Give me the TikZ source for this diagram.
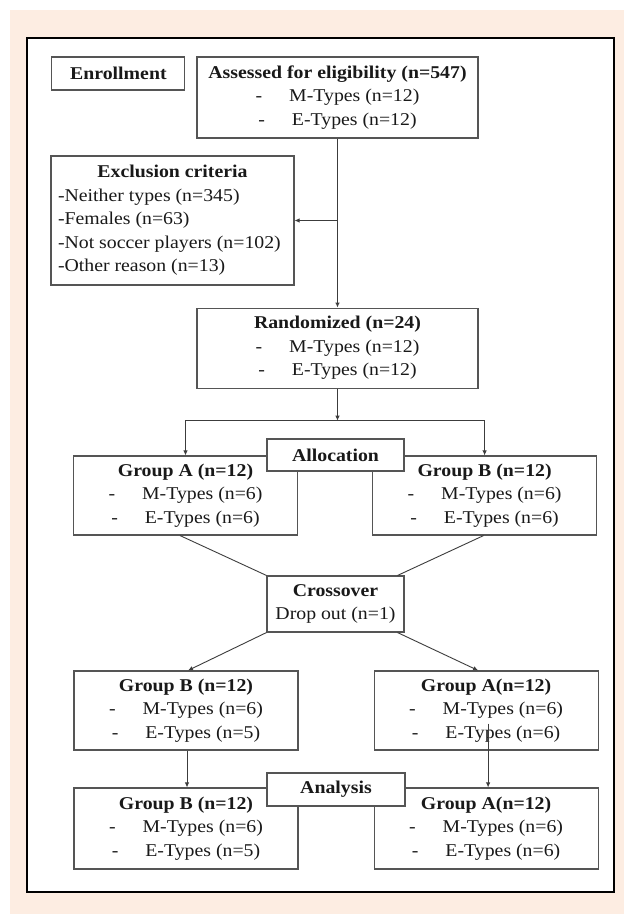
\documentclass[tikz,border=0pt]{standalone}
\usepackage{fontspec}
\setmainfont{Liberation Serif}[FakeStretch=1.1]
\usepackage{xcolor}
\usetikzlibrary{arrows.meta}
\usetikzlibrary{positioning}
\definecolor{peach}{RGB}{253,237,226}
\definecolor{boxline}{RGB}{85,85,85}
\definecolor{linkline}{RGB}{60,60,60}
\newcommand{\typeitem}[1]{-\hspace{27pt}#1}

\begin{document}
\begin{tikzpicture}[x=1pt, y=1pt,
    flowbox/.style={draw=boxline, line width=1.1pt, fill=white, inner sep=0pt,
      align=center, text=black!90, font=\fontsize{18}{23.5}\selectfont},
    groupbox/.style={flowbox, minimum width=224pt, minimum height=79pt},
    link/.style={draw=linkline, line width=0.9pt},
    arrow/.style={link, -{Latex[length=5pt,width=4.5pt]}}]
        \useasboundingbox (0,0) rectangle (624,-914);%
        \fill[white] (0,0) rectangle (624,-914);%
        \fill[peach] (10,-10) rectangle (624,-914);%
        \draw[fill=white, line width=1.8pt] (27,-38) rectangle (614,-892);%
        % enrollment
        \node[flowbox, minimum width=281pt, minimum height=81pt] (assess) at (337.5,-97.5) {\textbf{Assessed for eligibility (n=547)}\\ \typeitem{M-Types (n=12)}\\ \typeitem{E-Types (n=12)}};%
        \node[flowbox, minimum width=133pt, minimum height=33pt, anchor=north east] (enroll) at ([xshift=-11pt]assess.north west) {\textbf{Enrollment}};%
        \node[flowbox, minimum width=243pt, minimum height=129pt, align=left, inner xsep=7pt] (excl) at (172.5,-220.5) {\makebox[229pt]{\textbf{Exclusion criteria}}\\ -Neither types (n=345)\\ -Females (n=63)\\ -Not soccer players (n=102)\\ -Other reason (n=13)};%
        \node[flowbox, minimum width=281pt, minimum height=80pt, below=169pt of assess] (rand) {\textbf{Randomized (n=24)}\\ \typeitem{M-Types (n=12)}\\ \typeitem{E-Types (n=12)}};%
        \coordinate[below=32pt of rand] (split);%
        % allocation
        \node[groupbox] (grpA) at (185.5,-495.5) {\textbf{Group A (n=12)}\\ \typeitem{M-Types (n=6)}\\ \typeitem{E-Types (n=6)}};%
        \node[groupbox, right=74pt of grpA] (grpB) {\textbf{Group B (n=12)}\\ \typeitem{M-Types (n=6)}\\ \typeitem{E-Types (n=6)}};%
        \node[flowbox, minimum width=137pt, minimum height=32pt] (alloc) at (335.5,-455) {\textbf{Allocation}};%
        % crossover
        \node[flowbox, minimum width=137pt, minimum height=56pt] (cross) at (335.5,-604) {\textbf{Crossover}\\ Drop out (n=1)};%
        \node[groupbox] (grpB2) at (186,-710.5) {\textbf{Group B (n=12)}\\ \typeitem{M-Types (n=6)}\\ \typeitem{E-Types (n=5)}};%
        \node[groupbox, right=75pt of grpB2] (grpA2) {\textbf{Group A(n=12)}\\ \typeitem{M-Types (n=6)}\\ \typeitem{E-Types (n=6)}};%
        % analysis
        \node[groupbox, minimum height=81pt] (grpB3) at (186,-828.5) {\textbf{Group B (n=12)}\\ \typeitem{M-Types (n=6)}\\ \typeitem{E-Types (n=5)}};%
        \node[groupbox, minimum height=81pt, right=75pt of grpB3] (grpA3) {\textbf{Group A(n=12)}\\ \typeitem{M-Types (n=6)}\\ \typeitem{E-Types (n=6)}};%
        \node[flowbox, minimum width=138pt, minimum height=33pt] (anal) at (336,-789.5) {\textbf{Analysis}};%
        \coordinate (grpA2mid) at ([xshift=2pt, yshift=27pt]grpA2.south);%
        % connectors
        \draw[arrow] (assess.south) -- (rand.north); %
        \draw[arrow] (excl.east -| assess.south) -- (excl.east); %
        \draw[arrow] (rand.south) -- (split); %
        \draw[arrow] (split) -| (grpA.north); %
        \draw[arrow] (split) -| (grpB.north); %
        \draw[link] ([xshift=-5.5pt]grpA.south) -- (cross.north west); %
        \draw[link] ([xshift=-1pt]grpB.south) -- ([xshift=-7pt]cross.north east); %
        \draw[arrow] (cross.south west) -- ([xshift=2pt]grpB2.north); %
        \draw[arrow] ([xshift=-7pt]cross.south east) -- ([xshift=-8pt]grpA2.north); %
        \draw[arrow] ([xshift=1pt]grpB2.south) -- ([xshift=1pt]grpB3.north); %
        \draw[arrow] (grpA2mid) -- ([xshift=2pt]grpA3.north); %
      \end{tikzpicture}
\end{document}
